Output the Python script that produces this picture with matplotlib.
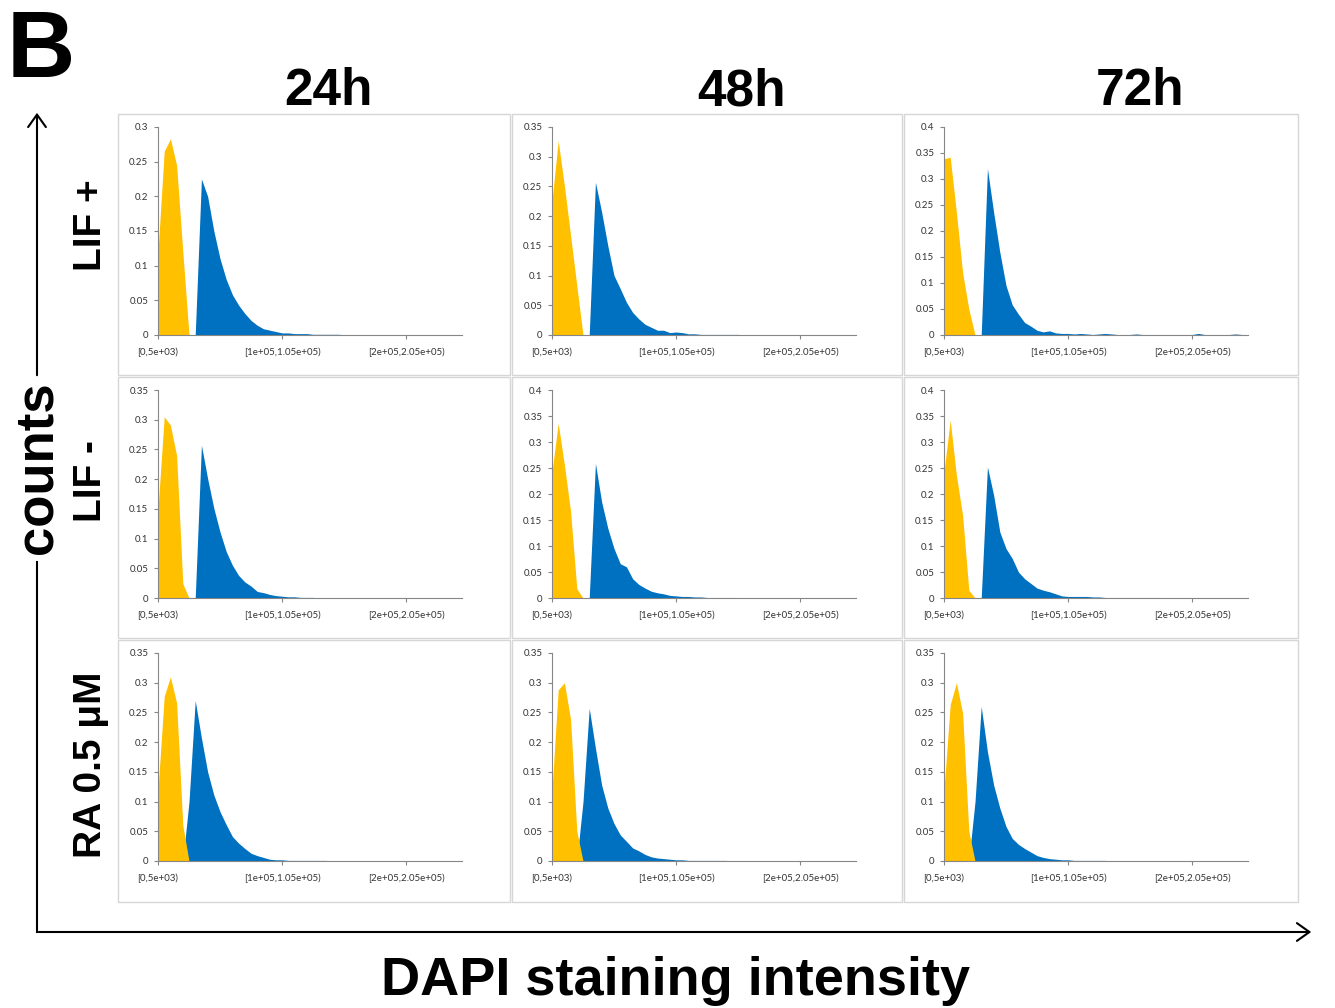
import matplotlib
matplotlib.use('Agg')
import matplotlib.pyplot as plt
import matplotlib.patches as patches
from matplotlib.lines import Line2D
import numpy as np

W, H = 1335, 1008
NBINS = 50

# category axis (bins of 5e3) - only 3 labels are shown
tick_bins = [0, 20, 40]
tick_labels = ["[0,5e+03)", "[1e+05,1.05e+05)", "[2e+05,2.05e+05)"]

times = ["24h", "48h", "72h"]
conditions = ["LIF +", "LIF -", "RA 0.5 μM"]

# y-axis maxima per panel (rows = conditions, cols = times)
ymax = [[0.3, 0.35, 0.4],
        [0.35, 0.4, 0.4],
        [0.35, 0.35, 0.35]]

# yellow series (low DAPI)
yel_lifp_24 = [0.12, 0.265, 0.283, 0.245, 0.12, 0]
yel_lifp_48 = [0.226, 0.327, 0.251, 0.167, 0.083, 0]
yel_lifp_72 = [0.339, 0.342, 0.236, 0.12, 0.05, 0]
yel_lifm_24 = [0.15, 0.305, 0.291, 0.24, 0.024, 0]
yel_lifm_48 = [0.243, 0.336, 0.256, 0.166, 0.018, 0]
yel_lifm_72 = [0.243, 0.342, 0.236, 0.159, 0.015, 0]
yel_ra_24 = [0.12, 0.277, 0.31, 0.266, 0.06, 0]
yel_ra_48 = [0.12, 0.288, 0.3, 0.238, 0.05, 0]
yel_ra_72 = [0.12, 0.263, 0.3, 0.249, 0.05, 0]

# blue series (high DAPI), starting at bin 0
blue_lifp_24 = [0, 0, 0, 0, 0, 0, 0, 0.225, 0.2, 0.15, 0.11, 0.08, 0.058, 0.043, 0.031,
                0.021, 0.014, 0.009, 0.007, 0.005, 0.003, 0.003, 0.002, 0.002, 0.002,
                0.001, 0.001, 0.001, 0.001, 0.001, 0.0005]
blue_lifp_48 = [0, 0, 0, 0, 0, 0, 0, 0.257, 0.207, 0.15, 0.1, 0.078, 0.055, 0.038, 0.027,
                0.018, 0.013, 0.008, 0.008, 0.004, 0.005, 0.004, 0.002, 0.002, 0.001,
                0.001, 0.001, 0.001, 0.001, 0.001, 0.001]
blue_lifp_72 = [0, 0, 0, 0, 0, 0, 0, 0.32, 0.236, 0.159, 0.095, 0.058, 0.04, 0.024, 0.017,
                0.009, 0.006, 0.008, 0.004, 0.003, 0.003, 0.002, 0.003, 0.002, 0.001,
                0.002, 0.003, 0.002, 0.001, 0.001, 0.001, 0.002, 0.001, 0.001, 0.001,
                0.001, 0.001, 0.001, 0.001, 0.001, 0.001, 0.003, 0.001, 0.001, 0.001,
                0.001, 0.001, 0.002, 0.001, 0.001]
blue_lifm_24 = [0, 0, 0, 0, 0, 0, 0, 0.257, 0.201, 0.151, 0.111, 0.078, 0.055, 0.038, 0.027,
                0.02, 0.011, 0.009, 0.006, 0.004, 0.003, 0.002, 0.002, 0.001, 0.001, 0.001]
blue_lifm_48 = [0, 0, 0, 0, 0, 0, 0, 0.259, 0.185, 0.134, 0.095, 0.066, 0.06, 0.037, 0.026,
                0.019, 0.013, 0.01, 0.008, 0.005, 0.004, 0.003, 0.003, 0.002, 0.002,
                0.001, 0.001, 0.001, 0.001, 0.001, 0.001]
blue_lifm_72 = [0, 0, 0, 0, 0, 0, 0, 0.252, 0.198, 0.127, 0.095, 0.076, 0.05, 0.037, 0.028,
                0.019, 0.015, 0.012, 0.008, 0.004, 0.003, 0.003, 0.003, 0.003, 0.002,
                0.002, 0.001, 0.001, 0.001, 0.001, 0.001, 0.001, 0.001, 0.001, 0.001, 0.001]
blue_ra_24 = [0, 0, 0, 0, 0, 0.1, 0.27, 0.207, 0.15, 0.111, 0.083, 0.061, 0.041, 0.03, 0.021,
              0.013, 0.009, 0.006, 0.003, 0.002, 0.002, 0.001, 0.001, 0.001, 0.001, 0.001,
              0.001, 0.001]
blue_ra_48 = [0, 0, 0, 0, 0, 0.1, 0.257, 0.19, 0.128, 0.089, 0.063, 0.044, 0.033, 0.022, 0.017,
              0.011, 0.007, 0.005, 0.004, 0.003, 0.002, 0.002, 0.001, 0.001, 0.001, 0.001,
              0.001, 0.001, 0.001]
blue_ra_72 = [0, 0, 0, 0, 0, 0.1, 0.26, 0.184, 0.128, 0.089, 0.058, 0.038, 0.028, 0.021, 0.015,
              0.009, 0.006, 0.004, 0.003, 0.002, 0.002, 0.001, 0.001, 0.001, 0.001, 0.001,
              0.001]

yellow = [[yel_lifp_24, yel_lifp_48, yel_lifp_72],
          [yel_lifm_24, yel_lifm_48, yel_lifm_72],
          [yel_ra_24, yel_ra_48, yel_ra_72]]
blue = [[blue_lifp_24, blue_lifp_48, blue_lifp_72],
        [blue_lifm_24, blue_lifm_48, blue_lifm_72],
        [blue_ra_24, blue_ra_48, blue_ra_72]]

YELLOW = '#FFC000'
BLUE = '#0070C0'
AXCOL = '#868686'
BIG = ['Liberation Sans', 'DejaVu Sans']


def fx(x):
    return x / W


def fy(y):
    return 1 - y / H


def full(vals):
    v = np.zeros(NBINS)
    v[:len(vals)] = vals[:NBINS]
    return v


fig = plt.figure(figsize=(W / 100, H / 100), dpi=100)

col_edges = [117, 511, 903, 1299]
row_edges = [113, 376, 639, 903]
x = np.arange(NBINS)

for r in range(3):
    for c in range(3):
        x0, x1 = col_edges[c], col_edges[c + 1]
        y0, y1 = row_edges[r], row_edges[r + 1]
        # chart area border
        rect = patches.Rectangle((fx(x0 + 1), fy(y1 - 1)), (x1 - x0 - 2) / W, (y1 - y0 - 2) / H,
                                 transform=fig.transFigure, fill=False,
                                 edgecolor='#d6d6d6', linewidth=1.0)
        fig.add_artist(rect)

        left = x0 + 41
        top = y0 + 14
        ax = fig.add_axes([fx(left), fy(top + 208), 304 / W, 208 / H])
        ax.fill_between(x, 0, full(blue[r][c]), color=BLUE, linewidth=0)
        ax.fill_between(x, 0, full(yellow[r][c]), color=YELLOW, linewidth=0)

        ax.set_xlim(0, NBINS - 1)
        ax.set_ylim(0, ymax[r][c])
        yt = np.round(np.arange(0, ymax[r][c] + 1e-9, 0.05), 2)
        ax.set_yticks(yt)
        ax.set_yticklabels(['{:g}'.format(v) for v in yt])
        ax.set_xticks(tick_bins)
        ax.set_xticklabels(tick_labels)

        for s in ['top', 'right']:
            ax.spines[s].set_visible(False)
        for s in ['left', 'bottom']:
            ax.spines[s].set_color(AXCOL)
            ax.spines[s].set_linewidth(0.8)
        ax.tick_params(axis='y', length=3, width=0.8, color=AXCOL, pad=4,
                       labelsize=7, labelcolor='#333333')
        ax.tick_params(axis='x', length=3, width=0.8, color=AXCOL, pad=6.5,
                       labelsize=7, labelcolor='#333333')
        for lab in ax.get_xticklabels() + ax.get_yticklabels():
            lab.set_family('Lato')
        ax.patch.set_alpha(0)

# panel letter and headings
fig.text(fx(7), fy(77), 'B', fontsize=68, fontweight='bold', family=BIG,
         ha='left', va='baseline')
for cx, t in zip([328, 742, 1140], times):
    fig.text(fx(cx), fy(105), t, fontsize=37, fontweight='bold', family=BIG,
             ha='center', va='baseline')
for cy, lab in zip([225, 481, 765], conditions):
    fig.text(fx(101), fy(cy), lab, fontsize=28, fontweight='bold', family=BIG,
             rotation=90, rotation_mode='anchor', ha='center', va='baseline')

fig.text(fx(52), fy(468), 'counts', fontsize=38, fontweight='bold', family=BIG,
         rotation=90, rotation_mode='anchor', ha='center', va='baseline')
fig.text(fx(676), fy(995), 'DAPI staining intensity', fontsize=39, fontweight='bold',
         family=BIG, ha='center', va='baseline')

# axes arrows
fig.add_artist(Line2D([fx(37), fx(37)], [fy(932), fy(562)], color='black', lw=1.5,
                      transform=fig.transFigure))
fig.add_artist(patches.FancyArrowPatch((fx(37), fy(378)), (fx(37), fy(110)),
                                       transform=fig.transFigure,
                                       arrowstyle='->,head_length=0.45,head_width=0.32',
                                       mutation_scale=20, lw=1.5, color='black'))
fig.add_artist(patches.FancyArrowPatch((fx(36), fy(932)), (fx(1314), fy(932)),
                                       transform=fig.transFigure,
                                       arrowstyle='->,head_length=0.45,head_width=0.32',
                                       mutation_scale=20, lw=1.5, color='black'))

fig.savefig('out.png', dpi=100)
